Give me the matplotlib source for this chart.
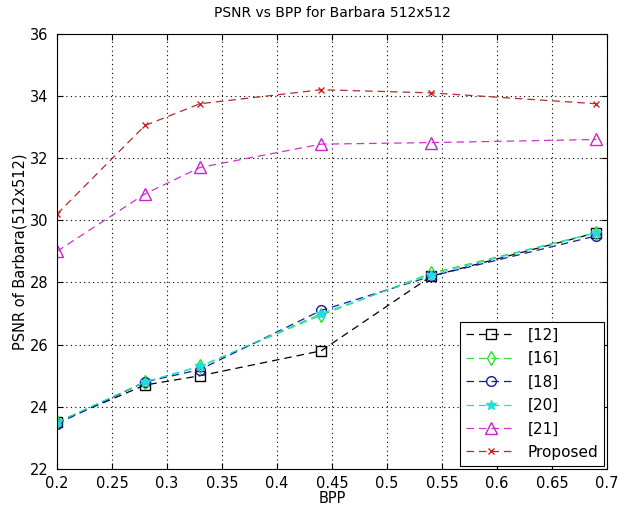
import matplotlib
matplotlib.use('Agg')
import matplotlib.pyplot as plt

bpp = [0.2, 0.28, 0.33, 0.44, 0.54, 0.69]
psnr_12 = [23.5, 24.7, 25.0, 25.8, 28.2, 29.6]
psnr_16 = [23.5, 24.8, 25.3, 26.95, 28.3, 29.6]
psnr_18 = [23.45, 24.8, 25.2, 27.1, 28.2, 29.5]
psnr_20 = [23.5, 24.8, 25.3, 27.0, 28.25, 29.6]
psnr_21 = [29.0, 30.85, 31.7, 32.45, 32.5, 32.6]
psnr_prop = [30.2, 33.05, 33.75, 34.2, 34.1, 33.75]

fig = plt.figure(figsize=(6.19, 5.12), dpi=100)
ax = fig.add_axes([0.092, 0.084, 0.889, 0.85])

dash = (0, (6, 4))
ax.plot(bpp, psnr_12, color='black', ls=dash, lw=0.9, marker='s', ms=7,
        mfc='none', mec='black', label='[12]')
ax.plot(bpp, psnr_16, color='#33dd33', ls=dash, lw=0.9, marker='d', ms=7,
        mfc='none', mec='#33dd33', label='[16]')
ax.plot(bpp, psnr_18, color='#1a1a99', ls=dash, lw=0.9, marker='o', ms=7,
        mfc='none', mec='#1a1a99', label='[18]')
ax.plot(bpp, psnr_20, color='#22dddd', ls=dash, lw=0.9, marker='*', ms=7,
        mfc='#22dddd', mec='#22dddd', label='[20]')
ax.plot(bpp, psnr_21, color='#cc33cc', ls=dash, lw=0.9, marker='^', ms=8,
        mfc='none', mec='#cc22cc', label='[21]')
ax.plot(bpp, psnr_prop, color='#b22a2a', ls=dash, lw=0.9, marker='x', ms=5,
        mec='#cc2222', label='Proposed')

ax.set_xlim(0.2, 0.7)
ax.set_ylim(22, 36)
ax.set_xticks([0.2, 0.25, 0.3, 0.35, 0.4, 0.45, 0.5, 0.55, 0.6, 0.65, 0.7])
ax.set_xticklabels(['0.2', '0.25', '0.3', '0.35', '0.4', '0.45', '0.5', '0.55', '0.6', '0.65', '0.7'])
ax.set_yticks(range(22, 37, 2))
ax.tick_params(direction='in', top=True, right=True, labelsize=10.5, length=4)
ax.tick_params(axis='y', pad=6)
ax.tick_params(axis='x', pad=5)
ax.grid(True, color='black', ls=(0, (1, 3)), lw=0.8)

ax.set_title('PSNR vs BPP for Barbara 512x512', fontsize=10, pad=12)
ax.set_xlabel('BPP', fontsize=10.5, labelpad=0)
ax.set_ylabel('PSNR of Barbara(512x512)', fontsize=10.5, labelpad=2)

leg = ax.legend(loc='lower right', fontsize=11, fancybox=False, framealpha=1,
                edgecolor='black', handlelength=3.2, borderaxespad=0.2,
                labelspacing=0.55)
leg.get_frame().set_linewidth(0.8)

fig.savefig('out.png', dpi=100, facecolor='white')
